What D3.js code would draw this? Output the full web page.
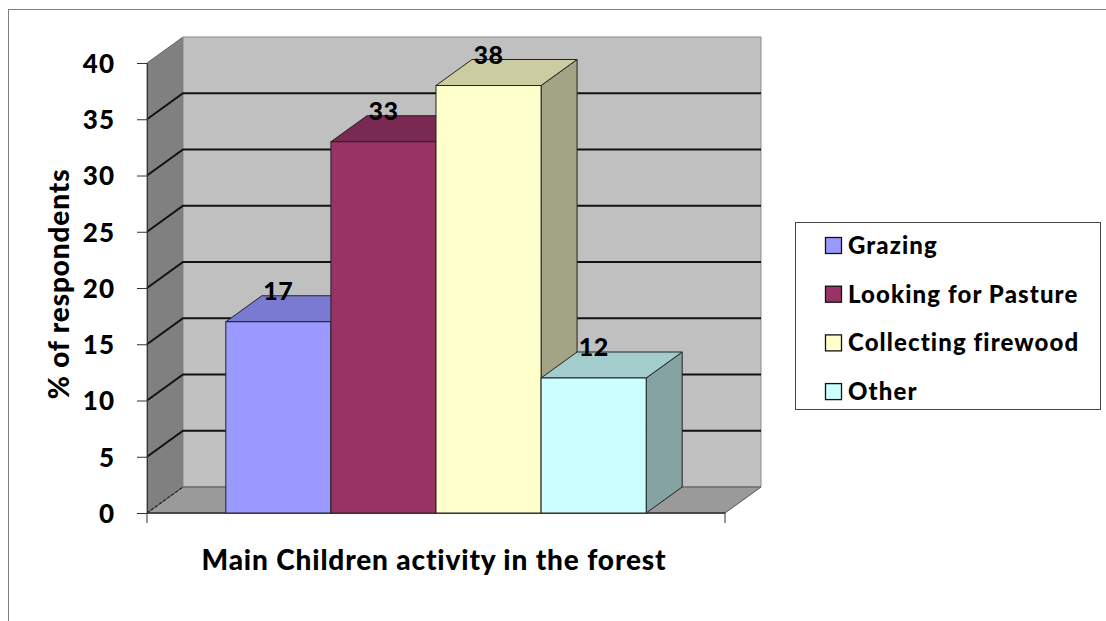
<html>
<head>
<script src="https://d3js.org/d3.v7.min.js"></script>
<style>
  body { margin: 0; background: white; }
  .font { font-family: Lato, "Open Sans", sans-serif; font-weight: 900; }
</style>
</head>
<body>
<svg width="1106" height="621"></svg>
<script>
  // data
  var categories = ["Grazing", "Looking for Pasture", "Collecting firewood", "Other"];
  var values = [17, 33, 38, 12];
  var ticks = [0, 5, 10, 15, 20, 25, 30, 35, 40];
  var fronts = ["#9999FF", "#993366", "#FFFFCC", "#CCFFFF"];
  var tops = ["#7A7AD2", "#7A2952", "#CCCCA3", "#A3CCCC"];
  var sides = ["#6B6BB3", "#6B2447", "#A3A385", "#85A3A3"];
  var axisTitle = "Main Children activity in the forest";
  var yTitle = "% of respondents";

  var svg = d3.select("svg");
  var dx = 36, dy = -26;   // depth offset of the 3d box
  var x0 = 147, x1 = 725;

  var ys = d3.scaleLinear().domain([0, 40]).range([513, 63]);
  var xs = d3.scaleBand().domain(categories).range([x0, x1]).paddingInner(0).paddingOuter(0.75);

  // outer border
  svg.append("rect").attr("x", 8.5).attr("y", 9.5).attr("width", 1120).attr("height", 640)
    .attr("fill", "white").attr("stroke", "#7f7f7f");

  function poly(pts) { return "M" + pts.map(function(p){ return p.join(","); }).join("L") + "Z"; }

  var yTop = ys(40), yBot = ys(0);
  // side wall
  svg.append("path").attr("d", poly([[x0, yTop], [x0+dx, yTop+dy], [x0+dx, yBot+dy], [x0, yBot]]))
    .attr("fill", "#808080").attr("stroke", "#666");
  // back wall
  svg.append("path").attr("d", poly([[x0+dx, yTop+dy], [x1+dx, yTop+dy], [x1+dx, yBot+dy], [x0+dx, yBot+dy]]))
    .attr("fill", "#C0C0C0").attr("stroke", "#8a8a8a");
  // floor
  svg.append("path").attr("d", poly([[x0, yBot], [x1, yBot], [x1+dx, yBot+dy], [x0+dx, yBot+dy]]))
    .attr("fill", "#9a9a9a").attr("stroke", "#555");

  // gridlines
  var grid = svg.append("g");
  ticks.slice(1, -1).forEach(function(t) {
    grid.append("path")
      .attr("d", "M" + x0 + "," + ys(t) + "L" + (x0+dx) + "," + (ys(t)+dy) + "L" + (x1+dx) + "," + (ys(t)+dy))
      .attr("fill", "none").attr("stroke", "#111").attr("stroke-width", 2);
  });
  grid.append("path")
    .attr("d", "M" + x0 + "," + yBot + "L" + (x0+dx) + "," + (yBot+dy))
    .attr("fill", "none").attr("stroke", "#222").attr("stroke-width", 1.2).attr("stroke-dasharray", "3,2");

  // axes
  svg.append("g").attr("transform", "translate(" + x0 + ",0)")
    .call(d3.axisLeft(ys).tickValues(ticks).tickSize(10).tickPadding(22))
    .call(function(g) {
      g.select(".domain").attr("stroke", "#333");
      g.selectAll("line").attr("stroke", "#333");
      g.selectAll("text").attr("class", "font").attr("font-family", null).attr("font-size", null)
        .style("font-size", "26px").style("letter-spacing", "1px").attr("dy", "0.36em").attr("fill", "#000");
    });
  svg.append("path").attr("d", "M" + x0 + "," + yBot + "V" + (yBot+10) + "M" + x1 + "," + yBot + "V" + (yBot+10))
    .attr("stroke", "#333");
  svg.append("path").attr("d", "M" + x0 + "," + yBot + "H" + x1).attr("stroke", "#333").attr("stroke-width", 1.5);

  // bars
  var bars = svg.append("g");
  categories.forEach(function(c, i) {
    var bx = xs(c), bw = xs.bandwidth(), by = ys(values[i]);
    bars.append("path").attr("d", poly([[bx+bw, by], [bx+bw+dx, by+dy], [bx+bw+dx, yBot+dy], [bx+bw, yBot]]))
      .attr("fill", sides[i]).attr("stroke", "#222");
    bars.append("path").attr("d", poly([[bx, by], [bx+dx, by+dy], [bx+bw+dx, by+dy], [bx+bw, by]]))
      .attr("fill", tops[i]).attr("stroke", "#222");
    bars.append("rect").attr("x", bx).attr("y", by).attr("width", bw).attr("height", yBot - by)
      .attr("fill", fronts[i]).attr("stroke", "#222");
  });

  // value labels
  svg.append("g").selectAll("text").data(values).enter()
    .append("text")
    .attr("class", "font")
    .attr("x", function(d, i){ return xs(categories[i]) + xs.bandwidth()/2; })
    .attr("y", function(d){ return ys(d) + dy + 4; })
    .attr("text-anchor", "middle")
    .style("font-size", "25px").style("letter-spacing", "0.5px")
    .text(function(d){ return d; });

  // axis titles
  svg.append("text").attr("class", "font").attr("x", 434).attr("y", 570)
    .attr("text-anchor", "middle").style("font-size", "28px").style("letter-spacing", "0.85px").text(axisTitle);
  svg.append("text").attr("class", "font")
    .attr("transform", "translate(69,284) rotate(-90)")
    .attr("text-anchor", "middle").style("font-size", "28px").style("letter-spacing", "0.85px").text(yTitle);

  // legend
  var legend = svg.append("g");
  legend.append("rect").attr("x", 795.5).attr("y", 222.5).attr("width", 305).attr("height", 187)
    .attr("fill", "white").attr("stroke", "#444");
  categories.forEach(function(c, i) {
    var ly = 254 + i * 48.7;
    legend.append("rect").attr("x", 825.5).attr("y", ly - 16.5).attr("width", 16).attr("height", 16)
      .attr("fill", fronts[i]).attr("stroke", "#111").attr("stroke-width", 1.3);
    legend.append("text").attr("class", "font").attr("x", 848).attr("y", ly)
      .style("font-size", "24px").style("letter-spacing", "1.1px").text(c);
  });
</script>
</body>
</html>
